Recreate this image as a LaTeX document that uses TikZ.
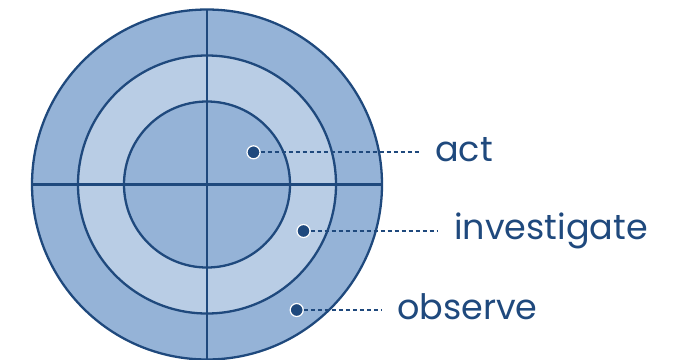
\documentclass[tikz,border=0pt]{standalone}
\usepackage{fontspec}
\setmainfont{Poppins}
\definecolor{dkblue}{HTML}{1F497D}
\definecolor{midblue}{HTML}{95B3D7}
\definecolor{ltblue}{HTML}{B9CDE5}
\begin{document}
\begin{tikzpicture}[x=1pt,y=-1pt,
  ring/.style={draw=dkblue,line width=2.3pt},
  dot/.style={circle,fill=dkblue,draw=white,line width=1.2pt,inner sep=0pt,minimum size=13pt},
  lead/.style={draw=dkblue,line width=2pt,dash pattern=on 4.5pt off 2.5pt},
  lbl/.style={anchor=base west,text=dkblue,font=\fontsize{35}{40}\selectfont,inner sep=0pt}]
\useasboundingbox (0,0) rectangle (692,359);
\coordinate (c) at (207,184.5);
\fill[midblue] (c) circle (175);
\fill[ltblue] (c) circle (129);
\fill[midblue] (c) circle (83);
\draw[ring] (c) circle (175);
\draw[ring] (c) circle (129);
\draw[ring] (c) circle (83);
\coordinate (l) at (32,184.5);
\coordinate (r) at (382,184.5);
\coordinate (t) at (207,9.5);
\coordinate (b) at (207,359.5);
\draw[ring] (l) -- (r);
\draw[ring] (t) -- (b);
\node[dot] (d1) at (253.5,152.3) {};
\node[dot] (d2) at (303.5,231) {};
\node[dot] (d3) at (296.7,310) {};
\coordinate (e1) at (420,152.3);
\coordinate (e2) at (438,231);
\coordinate (e3) at (382,310);
\draw[lead] (d1.east) -- (e1);
\draw[lead] (d2.east) -- (e2);
\draw[lead] (d3.east) -- (e3);
\node[lbl] (t1) at (435,161.7) {act};
\node[lbl] (t2) at (454,239) {investigate};
\node[lbl] (t3) at (397,319.3) {observe};
\end{tikzpicture}
\end{document}
